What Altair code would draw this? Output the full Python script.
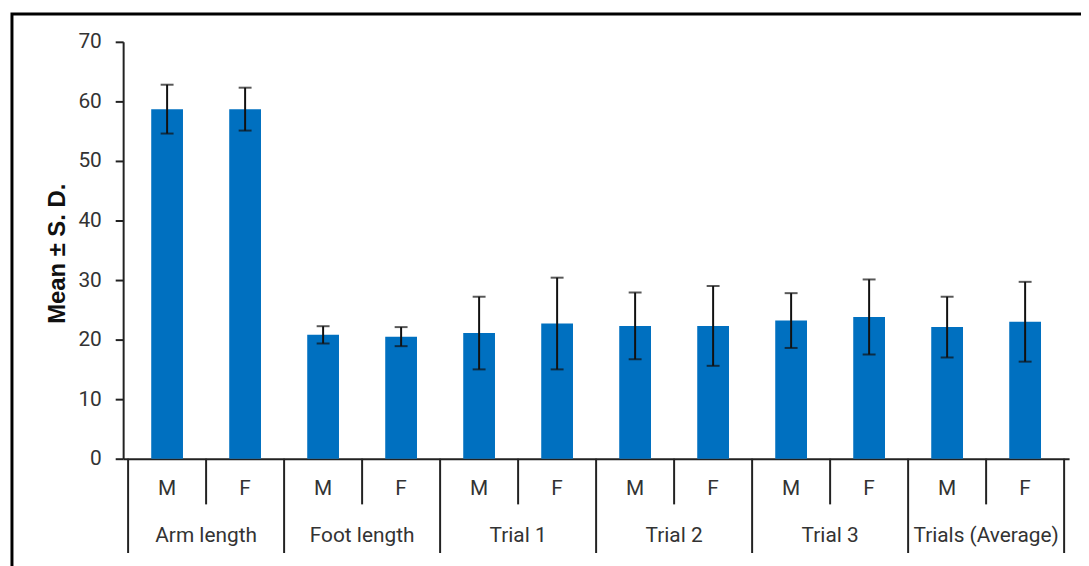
import altair as alt
import pandas as pd

groups = ["Arm length", "Foot length", "Trial 1", "Trial 2", "Trial 3", "Trials (Average)"]
sexes = ["M", "F"]
means = [58.7, 58.7, 20.8, 20.5, 21.1, 22.7, 22.3, 22.3, 23.2, 23.8, 22.1, 23.0]
sds = [4.1, 3.6, 1.45, 1.6, 6.1, 7.7, 5.6, 6.7, 4.6, 6.3, 5.1, 6.7]
y_ticks = [0, 10, 20, 30, 40, 50, 60, 70]

rows = []
for i, (m, s) in enumerate(zip(means, sds)):
    rows.append(dict(pos=i, group=groups[i // 2], sex=sexes[i % 2],
                     mean=m, lo=m - s, hi=m + s))
df = pd.DataFrame(rows)
grp = pd.DataFrame({"group": groups, "center": [2 * k + 0.5 for k in range(len(groups))]})
sep_minor = pd.DataFrame({"x": [2 * k + 0.5 for k in range(len(groups))]})
sep_major = pd.DataFrame({"x": [2 * k - 0.5 for k in range(len(groups) + 1)]})

FONT = "Roboto"
xscale = alt.Scale(domain=[-0.5, 11.5], nice=False, zero=False)
yscale = alt.Scale(domain=[0, 70], nice=False)

xaxis = alt.Axis(labels=False, ticks=False, title=None, grid=False,
                 domainColor="#222222", domainWidth=2)
yaxis = alt.Axis(values=y_ticks, grid=False, tickSize=8, tickWidth=2,
                 tickColor="#222222", domainColor="#222222", domainWidth=2,
                 labelFont=FONT, labelFontSize=21, labelColor="#333333",
                 labelPadding=14,
                 title="Mean ± S. D.", titleFont="Liberation Sans", titleFontSize=24,
                 titleFontWeight="bold", titleColor="#111111",
                 titleAngle=-90, titleX=-66, titleY=213,
                 titleAlign="center", titleBaseline="middle")

bars = alt.Chart(df).mark_bar(size=32, color="#0070C0").encode(
    x=alt.X("pos:Q", scale=xscale, axis=xaxis),
    y=alt.Y("mean:Q", scale=yscale, axis=yaxis),
)

err = alt.Chart(df).mark_rule(color="#111111", strokeWidth=2).encode(
    x=alt.X("pos:Q", scale=xscale, axis=xaxis),
    y=alt.Y("lo:Q", scale=yscale, axis=yaxis),
    y2="hi:Q",
)
cap_hi = alt.Chart(df).mark_tick(color="#111111", thickness=2, size=13,
                                 orient="horizontal").encode(
    x=alt.X("pos:Q", scale=xscale, axis=xaxis),
    y=alt.Y("hi:Q", scale=yscale, axis=yaxis),
)
cap_lo = alt.Chart(df).mark_tick(color="#111111", thickness=2, size=13,
                                 orient="horizontal").encode(
    x=alt.X("pos:Q", scale=xscale, axis=xaxis),
    y=alt.Y("lo:Q", scale=yscale, axis=yaxis),
)

minor = alt.Chart(sep_minor).mark_rule(color="#222222", strokeWidth=2).encode(
    x=alt.X("x:Q", scale=xscale, axis=xaxis),
    y=alt.value(420), y2=alt.value(466),
)
major = alt.Chart(sep_major).mark_rule(color="#222222", strokeWidth=2).encode(
    x=alt.X("x:Q", scale=xscale, axis=xaxis),
    y=alt.value(420), y2=alt.value(515),
)

sex_labels = alt.Chart(df).mark_text(font=FONT, fontSize=21, color="#333333",
                                     baseline="middle").encode(
    x=alt.X("pos:Q", scale=xscale, axis=xaxis),
    y=alt.value(451),
    text="sex:N",
)
grp_labels = alt.Chart(grp).mark_text(font=FONT, fontSize=21, color="#333333",
                                      baseline="middle").encode(
    x=alt.X("center:Q", scale=xscale, axis=xaxis),
    y=alt.value(498),
    text="group:N",
)

frame = alt.Chart(pd.DataFrame({"a": [0]})).mark_rect(
    fill=None, fillOpacity=0, stroke="#000000", strokeWidth=3).encode(
    x=alt.value(-112), x2=alt.value(1100),
    y=alt.value(-28), y2=alt.value(700),
)

chart = alt.layer(frame, bars, err, cap_hi, cap_lo, minor, major,
                  sex_labels, grp_labels).properties(
    width=953, height=420,
    autosize=alt.AutoSizeParams(type="none"),
    padding={"left": 116, "top": 32, "right": 12, "bottom": 106},
).configure_view(stroke=None)

chart.save("out.html", embed_options={"renderer": "svg", "actions": False})
